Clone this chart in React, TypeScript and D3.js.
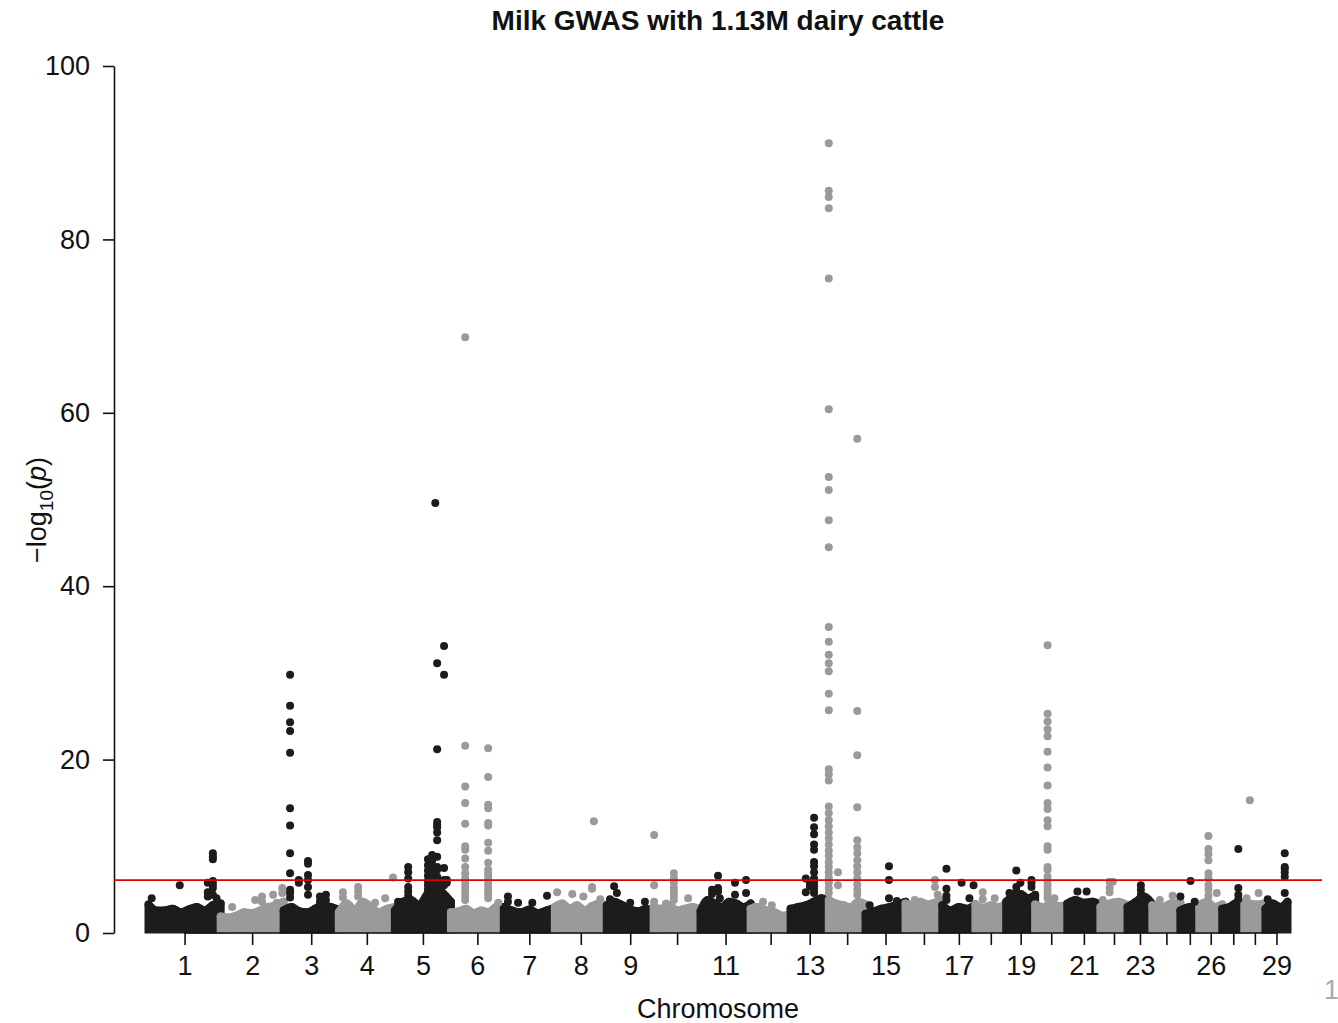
import React, { useEffect, useRef } from 'react';
import * as d3 from 'd3';

// chromosome lengths (Mb)
const chromosomes = d3.range(1, 30);
const chromLengths = [157, 137, 120, 122, 122, 115, 111, 113, 102, 102, 109, 87, 83, 80, 87, 80, 72, 67, 63, 70, 72, 59, 54, 61, 41, 50, 48, 46, 48];
const shownLabels = [1, 2, 3, 4, 5, 6, 7, 8, 9, 11, 13, 15, 17, 19, 21, 23, 26, 29];
const yTicks = [0, 20, 40, 60, 80, 100];
const threshold = 6.1;

// top of the dense cloud of SNPs, sampled evenly along each chromosome
const cloudTop = [
  [3.3, 2.6, 2.6, 2.8, 2.4, 2.7, 3.0, 2.6, 3.2, 3.4],
  [1.9, 1.8, 2.0, 2.4, 2.3, 2.6, 3.0, 3.2, 3.6],
  [2.6, 3.0, 2.5, 2.4, 2.8, 3.2, 3.0, 2.7],
  [2.4, 3.4, 2.6, 3.6, 3.0, 2.4, 2.8, 3.0],
  [2.6, 3.6, 3.8, 3.2, 4.4, 5.0, 4.6, 3.6],
  [2.4, 2.5, 2.8, 2.3, 2.6, 2.4, 3.0, 2.6],
  [3.0, 2.6, 2.4, 2.7, 2.3, 2.6, 2.9],
  [3.0, 3.4, 2.8, 3.2, 2.6, 3.1, 3.4, 3.0],
  [3.2, 3.6, 3.2, 2.7, 2.5, 2.8, 2.6],
  [3.0, 2.8, 3.2, 2.6, 2.8, 3.0, 2.7],
  [2.5, 3.8, 3.4, 3.0, 3.6, 3.4, 3.0, 3.4],
  [2.8, 3.0, 2.6, 2.4, 2.0, 2.2],
  [2.8, 3.0, 3.2, 3.6, 4.0, 3.8],
  [3.8, 3.4, 3.2, 3.0, 3.6, 3.3],
  [2.2, 2.5, 2.8, 3.0, 3.3, 3.6],
  [3.4, 3.2, 3.6, 3.3, 3.5, 3.8],
  [3.2, 2.6, 3.0, 2.8, 3.3],
  [3.3, 2.9, 3.2, 3.0, 3.4],
  [3.6, 4.3, 4.5, 4.0, 4.4],
  [3.3, 3.0, 3.4, 3.1, 3.2],
  [3.4, 3.8, 3.5, 3.6, 3.3],
  [3.0, 3.4, 3.6, 3.2],
  [3.0, 3.6, 4.2, 3.3],
  [3.2, 3.0, 3.4, 3.5],
  [2.6, 3.0, 2.8],
  [3.2, 3.6, 3.0, 3.3],
  [2.8, 3.0, 3.5, 2.9],
  [3.6, 3.3, 3.4],
  [2.8, 3.4, 3.0, 3.6],
];

// SNPs standing out of the cloud: [chromosome, position Mb, -log10(p) values]
const peaks: [number, number, number[]][] = [
  [1, 7, [4.0]], [1, 68, [5.5]], [1, 129, [5.8, 4.7, 4.2]], [1, 140, [9.2, 8.8, 8.5, 6.0, 5.6, 5.2, 4.4]], [1, 148, [4.0]],
  [2, 25, [3.0]], [2, 75, [3.8]], [2, 90, [4.2, 3.6]], [2, 114, [4.4]], [2, 122, [3.5]], [2, 134, [5.2, 4.6]],
  [3, 14, [29.8, 26.2, 24.3, 23.3, 20.8, 14.4, 12.4, 9.2, 6.9, 5.0, 4.6, 4.1]], [3, 33, [6.1, 5.8]], [3, 53, [8.3, 8.0, 6.7, 6.1, 5.3, 4.4]], [3, 79, [4.2, 3.6]], [3, 92, [4.4, 3.8]],
  [4, 9, [4.7, 4.1]], [4, 42, [5.3, 4.8, 4.2]], [4, 79, [3.5]], [4, 101, [4.0]], [4, 118, [6.4]],
  [5, 7, [3.6]], [5, 29, [7.6, 7.0, 6.3, 5.3, 4.8, 4.3]], [5, 44, [3.4]], [5, 72, [8.5, 7.8, 7.2, 6.6, 6.0, 5.5, 5.0, 4.6]],
  [5, 81, [9.0, 8.3, 7.6, 7.0, 6.4, 5.8, 5.2, 4.7]], [5, 88, [49.6]],
  [5, 92, [31.1, 21.2, 12.8, 12.5, 12.2, 11.6, 10.7, 8.8, 7.6, 7.3, 6.5, 6.1, 5.8, 5.0]], [5, 96, [5.8, 5.3, 4.8]],
  [5, 107, [33.1, 29.8, 7.5, 6.1, 5.5]], [5, 113, [6.1, 5.8]],
  [6, 31, [68.7, 21.6, 16.9, 15.0, 12.6, 10.0, 9.6, 8.6, 7.6, 6.9, 6.3, 5.8, 5.3, 4.8, 4.3, 3.8]],
  [6, 81, [21.3, 18.0, 14.8, 14.4, 12.7, 12.4, 10.4, 9.5, 8.1, 7.3, 6.9, 6.5, 6.1, 5.6, 5.2, 4.8, 4.4, 4.0]], [6, 103, [3.5]],
  [7, 9, [4.2, 3.6]], [7, 31, [3.5]], [7, 62, [3.5]], [7, 94, [4.3]],
  [8, 5, [4.7]], [8, 38, [4.5]], [8, 62, [4.2]], [8, 81, [5.3, 5.1]], [8, 85, [12.9]], [8, 99, [3.9]],
  [9, 7, [3.9]], [9, 16, [5.4]], [9, 22, [4.6]], [9, 51, [3.5]], [9, 83, [3.6]],
  [10, 1, [11.3, 5.5, 3.6]], [10, 27, [3.4]], [10, 44, [6.9, 6.3, 5.8, 5.2, 4.8, 4.3, 3.8]], [10, 75, [4.0]],
  [11, 25, [5.0, 4.5]], [11, 38, [6.6, 5.2, 4.8]], [11, 42, [4.0]], [11, 75, [5.8, 4.4]], [11, 99, [6.1, 4.6]],
  [12, 9, [3.0]], [12, 27, [3.6]], [12, 46, [3.2]],
  [13, 33, [6.3, 4.7]], [13, 42, [5.8, 5.4]], [13, 51, [13.3, 12.2, 11.4, 10.2, 9.6, 8.2, 7.7, 7.0, 6.3, 5.8, 5.4, 5.0, 4.6]],
  [14, 0, [91.1, 85.6, 84.9, 83.6, 75.5, 60.4, 52.6, 51.1, 47.6, 44.5, 35.3, 33.6, 32.1, 31.1, 30.2, 27.6, 25.7, 18.9, 18.3, 17.6, 14.6, 13.8, 13.0, 12.3, 11.6, 10.9, 10.2, 9.5, 8.9, 8.2, 7.6, 7.0, 6.4, 5.8, 5.2, 4.6]],
  [14, 20, [7.0, 5.5]], [14, 62, [57.0, 25.6, 20.5, 14.5, 10.7, 9.9, 9.2, 8.4, 7.7, 7.0, 6.3, 5.6, 5.0, 4.4]],
  [15, 9, [3.2]], [15, 51, [7.7, 6.1, 4.0]], [15, 68, [3.7]],
  [16, 20, [3.8]], [16, 64, [6.1, 5.3]], [16, 70, [4.4]],
  [17, 9, [7.4, 5.1, 4.3, 3.8]], [17, 42, [5.8]], [17, 59, [4.0]], [17, 68, [5.5]],
  [18, 16, [4.7, 3.9]], [18, 42, [4.0]],
  [19, 7, [4.6]], [19, 22, [7.2, 5.3, 4.8]], [19, 31, [5.8]], [19, 55, [6.1, 5.8, 5.3]],
  [20, 27, [33.2, 25.3, 24.4, 23.5, 22.7, 20.9, 19.1, 17.0, 15.0, 14.3, 13.0, 12.3, 10.0, 9.6, 7.6, 7.3, 6.5, 6.0, 5.5, 5.0, 4.5, 4.0]], [20, 42, [4.0]],
  [21, 22, [4.8]], [21, 42, [4.8]], [21, 55, [3.6]],
  [22, 5, [3.8]], [22, 20, [5.9, 5.2, 4.7]], [22, 27, [5.9]],
  [23, 29, [5.5, 5.0, 4.4, 3.9]],
  [24, 16, [3.8]], [24, 44, [4.3]],
  [25, 0, [4.2]], [25, 22, [6.0]], [25, 31, [3.6]],
  [26, 20, [11.2, 9.7, 9.1, 8.4, 6.9, 6.3, 5.5, 5.0, 4.3, 3.6]], [26, 38, [4.6]],
  [27, 35, [9.7, 5.2, 4.4, 3.9]],
  [28, 5, [4.0]], [28, 12, [15.3]], [28, 31, [4.6]],
  [29, 5, [3.9]], [29, 42, [9.2, 7.6, 7.4, 7.0, 6.5, 4.6]],
];

const BLACK = '#1c1c1c';
const GREY = '#9a9a9a';
const FONT = '"Liberation Sans", Arial, sans-serif';
const R = 4;

export default function App() {
  const ref = useRef<SVGSVGElement>(null);

  useEffect(() => {
    const svg = d3.select(ref.current);
    svg.selectAll('*').remove();

    const starts = chromLengths.map((_, i) => d3.sum(chromLengths.slice(0, i)));
    const total = d3.sum(chromLengths);
    const x = d3.scaleLinear().domain([0, total]).range([148.5, 1287.5]);
    const y = d3.scaleLinear().domain([0, 100]).range([933, 66]);
    const color = (c: number) => (c % 2 === 1 ? BLACK : GREY);

    svg.append('defs').append('clipPath').attr('id', 'plotclip')
      .append('rect').attr('x', 0).attr('y', 0).attr('width', 1338).attr('height', y(0) + 0.5);

    const plot = svg.append('g').attr('clip-path', 'url(#plotclip)');

    // dense cloud per chromosome
    const area = d3.area<[number, number]>()
      .x(d => x(d[0]))
      .y0(y(0))
      .y1(d => y(d[1]))
      .curve(d3.curveMonotoneX);

    chromosomes.forEach((c, i) => {
      const vals = cloudTop[i];
      const pts: [number, number][] = vals.map((v, j) => [starts[i] + chromLengths[i] * (j / (vals.length - 1)), v]);
      plot.append('path')
        .attr('d', area(pts))
        .attr('fill', color(c))
        .attr('stroke', color(c))
        .attr('stroke-width', 2 * R)
        .attr('stroke-linejoin', 'round');
      plot.selectAll(null)
        .data(pts)
        .enter().append('circle')
        .attr('cx', d => x(d[0]))
        .attr('cy', d => y(d[1]))
        .attr('r', R)
        .attr('fill', color(c));
    });

    // standout SNPs
    const dots = peaks.flatMap(([c, pos, vals]) => vals.map(v => ({ c, pos, v })));
    plot.selectAll(null)
      .data(dots)
      .enter().append('circle')
      .attr('cx', d => x(starts[d.c - 1] + d.pos))
      .attr('cy', d => y(d.v))
      .attr('r', R)
      .attr('fill', d => color(d.c));

    // y axis
    const yAxis = svg.append('g')
      .attr('transform', 'translate(114,0)')
      .call(d3.axisLeft(y).tickValues(yTicks).tickSize(11).tickSizeOuter(0).tickPadding(13));
    yAxis.select('.domain').attr('stroke', '#111').attr('stroke-width', 1.6);
    yAxis.selectAll('.tick line').attr('stroke', '#111').attr('stroke-width', 1.6);
    yAxis.selectAll('.tick text').attr('font-size', 27).attr('font-family', FONT).attr('fill', '#111');

    // x axis: ticks at chromosome centres, line from first to last tick (R style)
    const centres = chromosomes.map((_, i) => starts[i] + chromLengths[i] / 2);
    const xAxis = svg.append('g')
      .attr('transform', `translate(0,${y(0)})`)
      .call(d3.axisBottom(x).tickValues(centres).tickSize(12).tickPadding(11)
        .tickFormat((_, i) => (shownLabels.includes(i + 1) ? String(i + 1) : '')));
    xAxis.select('.domain').remove();
    xAxis.append('line')
      .attr('x1', x(centres[0])).attr('x2', x(centres[centres.length - 1]))
      .attr('stroke', '#111').attr('stroke-width', 1.6);
    xAxis.selectAll('.tick line').attr('stroke', '#111').attr('stroke-width', 1.6);
    xAxis.selectAll('.tick text').attr('font-size', 27).attr('font-family', FONT).attr('fill', '#111');

    // significance threshold
    svg.append('line')
      .attr('x1', 114).attr('x2', 1322)
      .attr('y1', y(threshold)).attr('y2', y(threshold))
      .attr('stroke', '#e00000').attr('stroke-width', 1.6);

    // titles
    svg.append('text')
      .attr('x', 718).attr('y', 30)
      .attr('text-anchor', 'middle')
      .attr('font-family', FONT).attr('font-weight', 'bold').attr('font-size', 28)
      .attr('fill', '#111')
      .text('Milk GWAS with 1.13M dairy cattle');

    svg.append('text')
      .attr('x', 718).attr('y', 1018)
      .attr('text-anchor', 'middle')
      .attr('font-family', FONT).attr('font-size', 27)
      .attr('fill', '#111')
      .text('Chromosome');

    const yt = svg.append('text')
      .attr('transform', 'translate(46,510) rotate(-90)')
      .attr('text-anchor', 'middle')
      .attr('font-family', FONT).attr('font-size', 27)
      .attr('fill', '#111');
    yt.append('tspan').text('\u2212log');
    yt.append('tspan').attr('font-size', 19).attr('dy', 7).text('10');
    yt.append('tspan').attr('dy', -7).text('(');
    yt.append('tspan').attr('font-style', 'italic').text('p');
    yt.append('tspan').text(')');

    // label fragment at the right edge
    svg.append('text')
      .attr('x', 1324).attr('y', 999)
      .attr('font-family', FONT).attr('font-size', 27)
      .attr('fill', '#aaa')
      .text('1');
  }, []);

  return (
    <div style={{ position: 'absolute', left: 0, top: 0 }}>
      <svg ref={ref} width={1338} height={1023} style={{ display: 'block', background: '#fff' }} />
    </div>
  );
}
